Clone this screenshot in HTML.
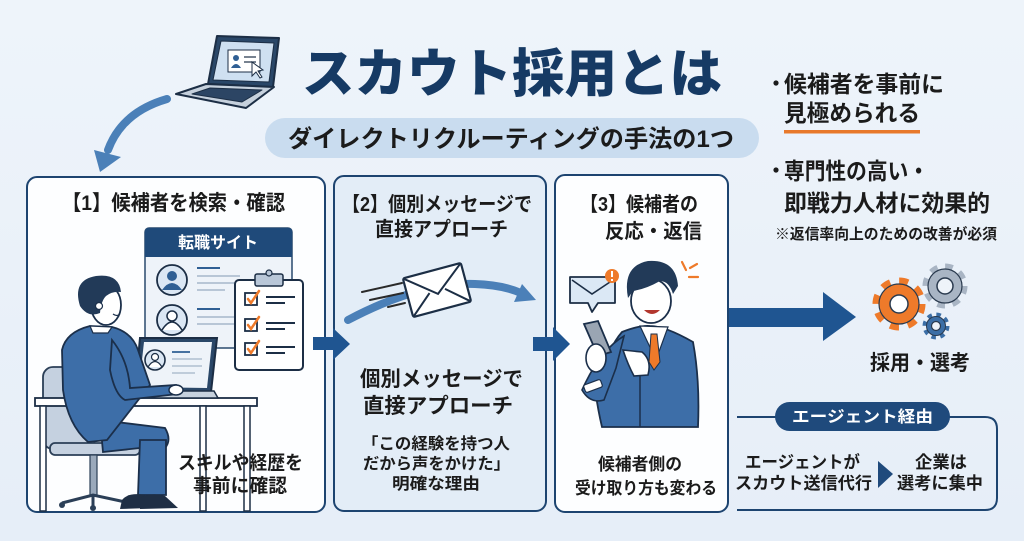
<!DOCTYPE html>
<html><head><meta charset="utf-8">
<style>
html,body{margin:0;padding:0;background:#e9f1f9;}
svg{display:block;}
text{font-family:"Liberation Sans","Noto Sans CJK JP",sans-serif;font-weight:bold;}
</style></head>
<body>
<svg width="1024" height="541" viewBox="0 0 1024 541" xmlns="http://www.w3.org/2000/svg">
<defs>
<linearGradient id="bg" x1="0" y1="0" x2="0" y2="1">
<stop offset="0" stop-color="#eef4fa"/><stop offset="1" stop-color="#e6eef8"/>
</linearGradient>
</defs>
<rect width="1024" height="541" fill="url(#bg)"/>

<!-- laptop icon top -->
<g stroke="#1c2e45" stroke-width="2" stroke-linejoin="round">
<polygon points="217,36 279,38 273,87 208,84" fill="#2a4768"/>
<polygon points="221,41 274,43 269,82 213,80" fill="#cfe0f1" stroke-width="1"/>
<polygon points="206,84 274,87 246,108 176,94" fill="#c6d1dd"/>
<polygon points="210,88 262,90 242,102 192,94" fill="#2c4564" stroke-width="1"/>
</g>
<rect x="228" y="50" width="32" height="22" fill="#fff" stroke="#1c2e45" stroke-width="1"/>
<circle cx="236" cy="58" r="3" fill="#2f5f94"/>
<path d="M231,68 Q236,60 241,68 Z" fill="#2f5f94"/>
<line x1="244" y1="57" x2="256" y2="57" stroke="#1c2e45" stroke-width="1.2"/>
<line x1="244" y1="62" x2="256" y2="62" stroke="#1c2e45" stroke-width="1.2"/>
<polygon points="252,62 252,76 256,72 260,78 262,77 258,71 263,70" fill="#fff" stroke="#1c2e45" stroke-width="1"/>

<!-- curved arrow -->
<path d="M167,99 Q122,112 108,150" fill="none" stroke="#4b80b8" stroke-width="8" stroke-linecap="round"/>
<polygon points="94,150 121,157 100,172" fill="#4b80b8"/>

<!-- title -->
<text x="302" y="92" font-size="52" fill="#163a64" textLength="420" lengthAdjust="spacingAndGlyphs" style="font-weight:900">スカウト採用とは</text>

<!-- subtitle pill -->
<rect x="265" y="118" width="494" height="40" rx="20" fill="#c9dcef"/>
<text x="288" y="147" font-size="24" fill="#1b1b1b" textLength="446" lengthAdjust="spacingAndGlyphs">ダイレクトリクルーティングの手法の1つ</text>

<!-- right bullets -->
<circle cx="776" cy="83" r="2.6" fill="#1b1b1b"/>
<text x="784" y="92" font-size="23" fill="#1b1b1b" textLength="160" lengthAdjust="spacingAndGlyphs">候補者を事前に</text>
<text x="784" y="121" font-size="23" fill="#1b1b1b" textLength="136" lengthAdjust="spacingAndGlyphs">見極められる</text>
<rect x="784" y="130" width="136" height="3.5" fill="#e8792b"/>
<circle cx="776" cy="170" r="2.6" fill="#1b1b1b"/>
<text x="784" y="179" font-size="23" fill="#1b1b1b" textLength="145" lengthAdjust="spacingAndGlyphs">専門性の高い・</text>
<text x="784" y="211" font-size="23" fill="#1b1b1b" textLength="206" lengthAdjust="spacingAndGlyphs">即戦力人材に効果的</text>
<text x="775" y="239" font-size="15" fill="#1b1b1b" textLength="222" lengthAdjust="spacingAndGlyphs">※返信率向上のための改善が必須</text>

<!-- panels -->
<rect x="27" y="177" width="298" height="335" rx="10" fill="#fdfeff" stroke="#1d4470" stroke-width="2"/>
<rect x="334" y="176" width="212" height="335" rx="10" fill="#e3edf7" stroke="#1d4470" stroke-width="2"/>
<rect x="555" y="175" width="173" height="337" rx="10" fill="#fdfeff" stroke="#1d4470" stroke-width="2"/>

<!-- panel 1 title -->
<text x="62" y="210" font-size="21" fill="#1b1b1b" textLength="223" lengthAdjust="spacingAndGlyphs">【1】候補者を検索・確認</text>

<!-- job site window -->
<rect x="145" y="228" width="147" height="120" rx="4" fill="#eef3f9" stroke="#2a4a6e" stroke-width="1.5"/>
<path d="M145,257 V232 Q145,228 149,228 H288 Q292,228 292,232 V257 Z" fill="#1f4a7a"/>
<text x="178" y="248" font-size="16" fill="#ffffff" textLength="80" lengthAdjust="spacingAndGlyphs">転職サイト</text>
<circle cx="172" cy="280" r="15" fill="#dbe7f4" stroke="#1c2e45" stroke-width="1.8"/>
<circle cx="172" cy="276" r="5" fill="#2f5f94"/>
<path d="M162,290 Q172,276 182,290 Z" fill="#2f5f94"/>
<circle cx="172" cy="320" r="15" fill="#dbe7f4" stroke="#1c2e45" stroke-width="1.8"/>
<circle cx="172" cy="316" r="5" fill="#fff" stroke="#1c2e45" stroke-width="1.5"/>
<path d="M162,330 Q172,314 182,330" fill="#fff" stroke="#1c2e45" stroke-width="1.5"/>
<g stroke-width="2">
<line x1="197" y1="268" x2="220" y2="268" stroke="#2f5f94"/>
<line x1="197" y1="276" x2="240" y2="276" stroke="#b8c6d6"/>
<line x1="197" y1="283" x2="240" y2="283" stroke="#b8c6d6"/>
<line x1="197" y1="290" x2="225" y2="290" stroke="#b8c6d6"/>
<line x1="197" y1="309" x2="220" y2="309" stroke="#2f5f94"/>
<line x1="197" y1="317" x2="240" y2="317" stroke="#b8c6d6"/>
<line x1="197" y1="324" x2="235" y2="324" stroke="#b8c6d6"/>
</g>
<!-- clipboard -->
<rect x="235" y="280" width="68" height="90" rx="4" fill="#fff" stroke="#1c2e45" stroke-width="2"/>
<rect x="255" y="274" width="28" height="12" rx="2" fill="#b9c7d8" stroke="#1c2e45" stroke-width="1.5"/>
<circle cx="269" cy="273" r="3" fill="#b9c7d8" stroke="#1c2e45" stroke-width="1.2"/>
<g stroke="#1c2e45" stroke-width="1.8" fill="#fff">
<rect x="245" y="293" width="12" height="12"/>
<rect x="245" y="319" width="12" height="12"/>
<rect x="245" y="343" width="12" height="12"/>
</g>
<g stroke="#ee7a2a" stroke-width="2.5" fill="none" stroke-linecap="round">
<path d="M248,299 L251,303 L259,291"/>
<path d="M248,325 L251,329 L259,317"/>
<path d="M248,349 L251,353 L259,341"/>
</g>
<g stroke="#1c2e45" stroke-width="2">
<line x1="266" y1="297" x2="295" y2="297"/><line x1="266" y1="303" x2="285" y2="303"/>
<line x1="266" y1="323" x2="295" y2="323"/><line x1="266" y1="329" x2="285" y2="329"/>
<line x1="266" y1="347" x2="295" y2="347"/><line x1="266" y1="353" x2="285" y2="353"/>
</g>

<!-- chair -->
<rect x="43" y="367" width="52" height="82" rx="10" fill="#c5d1e0" stroke="#2b3f57" stroke-width="1.8"/>
<rect x="50" y="443" width="90" height="12" rx="5" fill="#c5d1e0" stroke="#2b3f57" stroke-width="1.8"/>
<rect x="90" y="455" width="7" height="40" fill="#9aa9bb" stroke="#2b3f57" stroke-width="1.2"/>
<path d="M62,503 L93,495 L130,503 M93,495 L93,506" stroke="#2b3f57" stroke-width="3" fill="none"/>
<circle cx="62" cy="505" r="3" fill="#2b3f57"/><circle cx="130" cy="505" r="3" fill="#2b3f57"/><circle cx="93" cy="508" r="3" fill="#2b3f57"/>

<!-- desk -->
<rect x="35" y="398" width="222" height="8" fill="#fff" stroke="#1c2e45" stroke-width="1.8"/>
<rect x="40" y="406" width="6" height="105" fill="#fff" stroke="#1c2e45" stroke-width="1.5"/>
<rect x="200" y="406" width="6" height="105" fill="#fff" stroke="#1c2e45" stroke-width="1.5"/>
<rect x="244" y="406" width="6" height="105" fill="#fff" stroke="#1c2e45" stroke-width="1.5"/>

<!-- laptop in panel 1 -->
<polygon points="140,338 217,338 211,392 135,391" fill="#2a4768" stroke="#1c2e45" stroke-width="2"/>
<polygon points="144,342 212,342 207,388 139,387" fill="#eef3f9"/>
<circle cx="155" cy="360" r="10" fill="#dbe7f4" stroke="#1c2e45" stroke-width="1.6"/>
<circle cx="155" cy="357" r="3.5" fill="#fff" stroke="#1c2e45" stroke-width="1.2"/>
<path d="M148,367 Q155,356 162,367" fill="#fff" stroke="#1c2e45" stroke-width="1.2"/>
<g stroke-width="1.8"><line x1="172" y1="352" x2="190" y2="352" stroke="#2f5f94"/>
<line x1="172" y1="359" x2="202" y2="359" stroke="#b8c6d6"/><line x1="172" y1="366" x2="202" y2="366" stroke="#b8c6d6"/><line x1="172" y1="373" x2="195" y2="373" stroke="#b8c6d6"/></g>
<polygon points="128,391 214,391 218,398 125,398" fill="#c6d1dd" stroke="#1c2e45" stroke-width="1.5"/>

<!-- person panel 1 -->
<path d="M100,420 L165,428 Q172,440 165,448 L140,448 L103,452 Z" fill="#3d6ea8" stroke="#1b2f4a" stroke-width="1.8"/>
<path d="M140,440 L166,440 L166,495 L138,495 Z" fill="#3d6ea8" stroke="#1b2f4a" stroke-width="1.8"/>
<path d="M122,500 Q128,492 145,495 L150,508 L120,509 Z" fill="#1f2f45"/>
<path d="M140,498 Q150,492 165,496 L178,508 L140,509 Z" fill="#1f2f45"/>
<path d="M62,350 Q66,332 90,326 L112,327 Q132,332 138,350 L150,385 L107,440 L88,442 Q68,425 63,390 Z" fill="#3d6ea8" stroke="#1b2f4a" stroke-width="1.8"/>
<path d="M112,340 Q128,360 130,388 L176,385 L178,394 L125,400 Q115,395 110,370 Z" fill="#3d6ea8" stroke="#1b2f4a" stroke-width="1.8"/>
<ellipse cx="176" cy="390" rx="7" ry="5" fill="#fff" stroke="#1b2f4a" stroke-width="1.5"/>
<path d="M90,326 L112,327 L108,333 L93,333 Z" fill="#fff" stroke="#1b2f4a" stroke-width="1.2"/>
<ellipse cx="106" cy="305" rx="15" ry="20" fill="#fff" stroke="#1b2f4a" stroke-width="1.8"/>
<path d="M80,306 Q72,280 96,276 Q119,273 121,292 Q112,291 106,296 Q101,301 100,313 Q88,318 80,306 Z" fill="#223a58"/>
<circle cx="99" cy="306" r="3.5" fill="#fff" stroke="#1b2f4a" stroke-width="1.2"/>
<path d="M113,314 Q117,317 120,314" fill="none" stroke="#1b2f4a" stroke-width="1.2"/>

<text x="178" y="469" font-size="19" fill="#1b1b1b" textLength="125" lengthAdjust="spacingAndGlyphs">スキルや経歴を</text>
<text x="193" y="492" font-size="19" fill="#1b1b1b" textLength="94" lengthAdjust="spacingAndGlyphs">事前に確認</text>

<!-- panel 2 -->
<text x="342" y="211" font-size="20" fill="#1b1b1b" textLength="190" lengthAdjust="spacingAndGlyphs">【2】個別メッセージで</text>
<text x="375" y="236" font-size="20" fill="#1b1b1b" textLength="133" lengthAdjust="spacingAndGlyphs">直接アプローチ</text>
<path d="M348,320 Q420,282 475,284 Q503,285 521,293" fill="none" stroke="#4b80b8" stroke-width="8" stroke-linecap="round"/>
<polygon points="514,302 522,284 536,300" fill="#4b80b8"/>
<g stroke="#2a2a2a" stroke-width="2" stroke-linecap="round">
<line x1="362" y1="292" x2="402" y2="283"/>
<line x1="370" y1="300" x2="403" y2="293"/>
<line x1="388" y1="307" x2="405" y2="303"/>
</g>
<g transform="translate(437,290) rotate(-15)">
<rect x="-30" y="-20" width="60" height="40" rx="2" fill="#fff" stroke="#1c2e45" stroke-width="2.2"/>
<path d="M-30,-20 L0,4 L30,-20 M-30,20 L-8,1 M30,20 L8,1" fill="none" stroke="#1c2e45" stroke-width="2"/>
</g>
<text x="360" y="386" font-size="21" fill="#1b1b1b" textLength="163" lengthAdjust="spacingAndGlyphs">個別メッセージで</text>
<text x="363" y="413" font-size="21" fill="#1b1b1b" textLength="150" lengthAdjust="spacingAndGlyphs">直接アプローチ</text>
<text x="362" y="449" font-size="16" fill="#1b1b1b" textLength="148" lengthAdjust="spacingAndGlyphs">「この経験を持つ人</text>
<text x="363" y="469" font-size="16" fill="#1b1b1b" textLength="147" lengthAdjust="spacingAndGlyphs">だから声をかけた」</text>
<text x="392" y="489" font-size="16" fill="#1b1b1b" textLength="88" lengthAdjust="spacingAndGlyphs">明確な理由</text>

<!-- panel 3 -->
<text x="580" y="211" font-size="20" fill="#1b1b1b" textLength="118" lengthAdjust="spacingAndGlyphs">【3】候補者の</text>
<text x="605" y="238" font-size="20" fill="#1b1b1b" textLength="97" lengthAdjust="spacingAndGlyphs">反応・返信</text>
<!-- mail bubble -->
<path d="M570,277 H615 V303 H598 L592,312 L588,303 H570 Z" fill="#dbe8f5" stroke="#1c2e45" stroke-width="1.8" stroke-linejoin="round"/>
<path d="M572,280 L592,294 L613,280" fill="none" stroke="#1c2e45" stroke-width="1.6"/>
<circle cx="612" cy="276" r="7" fill="#ee7a2a"/>
<rect x="611" y="271" width="2" height="6" fill="#fff"/><rect x="611" y="279" width="2" height="2" fill="#fff"/>
<g stroke="#ee7a2a" stroke-width="2.2" stroke-linecap="round">
<line x1="682" y1="262" x2="686" y2="270"/><line x1="690" y1="268" x2="697" y2="264"/><line x1="689" y1="277" x2="698" y2="277"/>
</g>
<!-- body -->
<path d="M622,332 Q640,325 650,326 Q665,326 693,342 Q700,380 698,427 L602,427 Q598,410 596,395 Q606,350 622,332 Z" fill="#3d6ea8" stroke="#1b2f4a" stroke-width="1.8"/>
<path d="M640,326 L668,327 L656,360 Z" fill="#fff" stroke="#1b2f4a" stroke-width="1.2"/>
<path d="M651,334 L657,334 L660,362 L654,370 L649,362 Z" fill="#ee7a2a" stroke="#1b2f4a" stroke-width="1"/>
<line x1="640" y1="365" x2="640" y2="427" stroke="#1b2f4a" stroke-width="1.5"/>
<!-- phone arm -->
<path d="M624,336 Q600,350 582,390 Q590,404 604,400 L616,368 Z" fill="#3d6ea8" stroke="#1b2f4a" stroke-width="1.6"/>
<rect x="584" y="382" width="18" height="8" rx="2" transform="rotate(-20 593 386)" fill="#fff" stroke="#1b2f4a" stroke-width="1.2"/>
<polygon points="584,324 598,321 611,352 598,356" fill="#9aa5b3" stroke="#1b2f4a" stroke-width="1.8"/>
<ellipse cx="596" cy="358" rx="10" ry="14" fill="#fff" stroke="#1b2f4a" stroke-width="1.6"/>
<!-- pointing hand -->
<path d="M623,350 L642,352 Q652,360 648,375 L634,376 Q628,365 623,350 Z" fill="#fff" stroke="#1b2f4a" stroke-width="1.6"/>
<!-- head -->
<ellipse cx="651" cy="301" rx="20" ry="22" fill="#fff" stroke="#1b2f4a" stroke-width="1.8"/>
<path d="M628,298 Q622,266 648,261 Q676,259 678,286 L673,294 Q669,281 660,281 Q646,289 633,291 Z" fill="#223a58"/>
<path d="M644,310 Q652,318 660,310 Z" fill="#b3372e"/>

<text x="598" y="470" font-size="17" fill="#1b1b1b" textLength="84" lengthAdjust="spacingAndGlyphs">候補者側の</text>
<text x="575" y="494" font-size="17" fill="#1b1b1b" textLength="142" lengthAdjust="spacingAndGlyphs">受け取り方も変わる</text>

<!-- arrows between panels -->
<g fill="#1f5591">
<rect x="313" y="337" width="22" height="13"/>
<polygon points="333,328 350,344 333,360"/>
<rect x="533" y="337" width="22" height="14"/>
<polygon points="553,327 570,344 553,361"/>
<rect x="729" y="308" width="96" height="19"/>
<polygon points="823,292 856,317 823,341"/>
</g>

<!-- gears -->
<g>
<circle cx="945" cy="286" r="19" fill="none" stroke="#a9b5c4" stroke-width="7" stroke-dasharray="7.46 7.46"/>
<circle cx="945" cy="286" r="17" fill="#a9b5c4" stroke="#2a3a4e" stroke-width="1.2"/>
<circle cx="945" cy="286" r="8" fill="#eef3f9" stroke="#2a3a4e" stroke-width="1.5"/>
<circle cx="899" cy="304" r="23" fill="none" stroke="#ee7a2a" stroke-width="7" stroke-dasharray="9.03 9.03"/>
<circle cx="899" cy="304" r="20" fill="#ee7a2a" stroke="#2a3a4e" stroke-width="1.2"/>
<circle cx="899" cy="304" r="9" fill="#fff" stroke="#2a3a4e" stroke-width="1.5"/>
<circle cx="936" cy="326" r="11" fill="none" stroke="#3b6ea6" stroke-width="5" stroke-dasharray="4.32 4.32"/>
<circle cx="936" cy="326" r="9.5" fill="#3b6ea6" stroke="#2a3a4e" stroke-width="1"/>
<circle cx="936" cy="326" r="4.5" fill="#eef3f9" stroke="#2a3a4e" stroke-width="1.2"/>
</g>
<text x="870" y="370" font-size="21" fill="#1b1b1b" textLength="100" lengthAdjust="spacingAndGlyphs">採用・選考</text>

<!-- agent box -->
<path d="M737,417 H985 Q997,417 997,429 V498 Q997,510 985,510 H737" fill="none" stroke="#1d4470" stroke-width="2"/>
<rect x="775" y="402" width="175" height="29" rx="14.5" fill="#1f4a7c"/>
<text x="792" y="422" font-size="16" fill="#ffffff" textLength="141" lengthAdjust="spacingAndGlyphs">エージェント経由</text>
<text x="745" y="468" font-size="17" fill="#1b1b1b" textLength="115" lengthAdjust="spacingAndGlyphs">エージェントが</text>
<text x="735" y="489" font-size="17" fill="#1b1b1b" textLength="137" lengthAdjust="spacingAndGlyphs">スカウト送信代行</text>
<polygon points="878,461 893,474 878,488" fill="#1f4a7c"/>
<text x="915" y="468" font-size="17" fill="#1b1b1b" textLength="52" lengthAdjust="spacingAndGlyphs">企業は</text>
<text x="897" y="489" font-size="17" fill="#1b1b1b" textLength="86" lengthAdjust="spacingAndGlyphs">選考に集中</text>
</svg>
</body></html>
